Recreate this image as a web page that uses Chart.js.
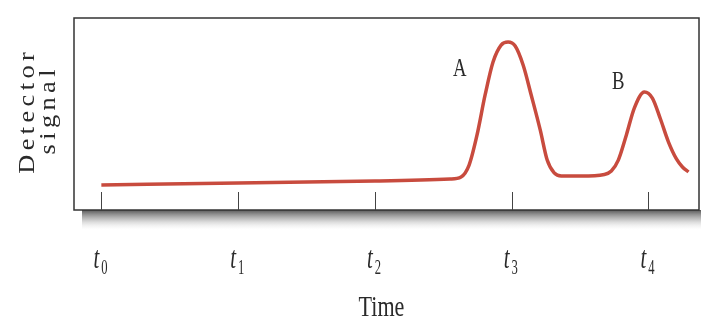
<!DOCTYPE html>
<html lang="en">
<head>
<meta charset="UTF-8">
<title>Chromatogram</title>
<script src="https://cdn.jsdelivr.net/npm/chart.js"></script>
<style>
  html, body {
    margin: 0;
    padding: 0;
    background: #fff;
    overflow: hidden;
  }
  canvas {
    display: block;
  }
</style>
</head>
<body>
  <canvas id="chart" width="701" height="322"></canvas>
  <script>
    // time axis: t0..t4, signal in arbitrary units
    const tickValues = [0, 1, 2, 3, 4]
    const tickSubs = ['0', '1', '2', '3', '4']
    const times = [0, 1, 2, 2.55, 2.63, 2.689, 2.747, 2.806, 2.864, 2.923, 2.974, 3.026, 3.084, 3.143, 3.209, 3.26, 3.311, 3.363,
      3.509, 3.678, 3.729, 3.78, 3.839, 3.897, 3.971, 4.029, 4.088, 4.147, 4.205, 4.249, 4.293]
    const signal = [13.0, 14.1, 15.1, 16.1, 17.2, 23.4, 39.1, 59.9, 77.1, 85.9, 87.5, 85.4, 75.5, 59.9, 41.7, 26.0, 19.3, 17.7,
      17.7, 18.5, 20.3, 26.0, 39.1, 53.1, 61.5, 58.3, 47.4, 35.4, 26.6, 22.4, 19.8]
    const peakNames = ['A', 'B']
    const peakX = [2.62, 3.78]
    const peakY = [70, 63]
    const xTitle = 'Time'
    const yTitle = ['Detector', 'signal']

    const serif = '"Liberation Serif", "DejaVu Serif", serif'

    function squashText(ctx, str, x, y, font, sx, sy) {
      ctx.save()
      ctx.translate(x, y)
      ctx.scale(sx, sy)
      ctx.font = font
      ctx.fillText(str, 0, 0)
      ctx.restore()
    }

    function sideText(ctx, str, x, y) {
      ctx.save()
      ctx.translate(x, y)
      ctx.rotate(-Math.PI / 2)
      ctx.scale(1.1, 1)
      ctx.letterSpacing = '4px'
      ctx.font = '24px ' + serif
      ctx.fillText(str, 2, 0)
      ctx.restore()
    }

    // frame, inner ticks, shadow under the axis and all the text
    const decor = {
      id: 'decor',
      beforeDatasetsDraw(chart) {
        const { ctx, chartArea: a } = chart
        const xs = chart.scales.x, ys = chart.scales.y
        ctx.save()
        const g = ctx.createLinearGradient(0, a.bottom, 0, a.bottom + 20)
        g.addColorStop(0, 'rgba(70,70,70,0.9)')
        g.addColorStop(0.45, 'rgba(140,140,140,0.55)')
        g.addColorStop(1, 'rgba(230,230,230,0)')
        ctx.fillStyle = g
        ctx.fillRect(a.left + 8, a.bottom, a.right - a.left, 20)
        ctx.strokeStyle = '#333'
        ctx.lineWidth = 1.5
        ctx.strokeRect(a.left, a.top, a.right - a.left, a.bottom - a.top)
        ctx.lineWidth = 1
        ctx.strokeStyle = '#444'
        tickValues.forEach(v => {
          const px = Math.round(xs.getPixelForValue(v)) + 0.5
          ctx.beginPath()
          ctx.moveTo(px, a.bottom)
          ctx.lineTo(px, a.bottom - 18)
          ctx.stroke()
        })

        ctx.fillStyle = '#2a2a2a'
        ctx.textAlign = 'center'
        ctx.textBaseline = 'alphabetic'
        // tick labels: italic t with a subscript
        tickValues.forEach((v, i) => {
          const px = xs.getPixelForValue(v)
          squashText(ctx, 't', px - 5, a.bottom + 58, 'italic 26px ' + serif, 0.8, 1.2)
          squashText(ctx, tickSubs[i], px + 3, a.bottom + 64, '18px ' + serif, 0.7, 1.2)
        })
        // peak letters
        peakNames.forEach((n, i) => {
          squashText(ctx, n, xs.getPixelForValue(peakX[i]), ys.getPixelForValue(peakY[i]), '25px ' + serif, 0.75, 1.05)
        })
        // axis titles
        squashText(ctx, xTitle, (a.left + a.right) / 2 - 5, 316, '26px ' + serif, 0.85, 1.1)
        sideText(ctx, yTitle[0], 34, 113)
        sideText(ctx, yTitle[1], 55, 112)
        ctx.restore()
      }
    }

    const chart = new Chart(document.getElementById('chart'), {
      type: 'line',
      data: {
        datasets: [{
          data: times.map((t, i) => ({ x: t, y: signal[i] })),
          borderColor: '#c84b3e',
          borderWidth: 3.5,
          pointRadius: 0,
          cubicInterpolationMode: 'monotone',
          fill: false
        }]
      },
      options: {
        responsive: false,
        animation: false,
        layout: { padding: { left: 74, right: 2, top: 18, bottom: 112 } },
        plugins: { legend: { display: false }, tooltip: { enabled: false } },
        scales: {
          x: {
            type: 'linear',
            min: -0.2,
            max: 4.37,
            display: false
          },
          y: {
            min: 0,
            max: 100,
            display: false
          }
        }
      },
      plugins: [decor]
    })
  </script>
</body>
</html>
